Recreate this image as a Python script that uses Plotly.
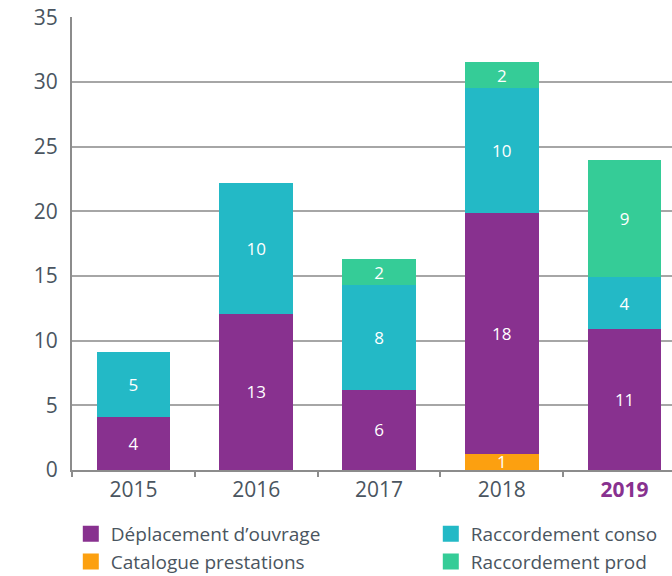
import plotly.graph_objects as go

years = ["2015", "2016", "2017", "2018", "2019"]
year_labels = ["2015", "2016", "2017", "2018",
               "<span style='color:#88318F'><b>2019</b></span>"]

# segment heights as drawn in the picture
catalogue = [0, 0, 0, 1.24, 0]
deplacement = [4.1, 12.1, 6.2, 18.6, 10.9]
conso = [5.0, 10.1, 8.1, 9.7, 4.0]
prod = [0, 0, 2.0, 2.0, 9.1]

# printed labels
catalogue_lbl = ["", "", "", "1", ""]
deplacement_lbl = ["4", "13", "6", "18", "11"]
conso_lbl = ["5", "10", "8", "10", "4"]
prod_lbl = ["", "", "2", "2", "9"]

C_DEP = "#88318F"
C_CAT = "#FCA010"
C_CON = "#23B9C6"
C_PRO = "#35CC97"
TXT = "#4A5560"
FONT = "Open Sans"

xs = list(range(len(years)))

fig = go.Figure()
for name, vals, lbl, col in [
    ("Catalogue prestations", catalogue, catalogue_lbl, C_CAT),
    ("Déplacement d’ouvrage", deplacement, deplacement_lbl, C_DEP),
    ("Raccordement conso", conso, conso_lbl, C_CON),
    ("Raccordement prod", prod, prod_lbl, C_PRO),
]:
    fig.add_bar(x=xs, y=vals, text=lbl, name=name, marker_color=col,
                marker_line_width=0, textposition="inside", textangle=0,
                insidetextanchor="middle",
                textfont=dict(color="white", size=17, family=FONT),
                showlegend=False, width=0.6)

# legend entries (two columns, as in the reference)
for name, col, lg in [
    ("Déplacement d’ouvrage", C_DEP, "legend"),
    ("Catalogue prestations", C_CAT, "legend"),
    ("Raccordement conso", C_CON, "legend2"),
    ("Raccordement prod", C_PRO, "legend2"),
]:
    fig.add_scatter(x=[None], y=[None], mode="markers", name=name,
                    legend=lg,
                    marker=dict(symbol="square", size=19, color=col))

leg_common = dict(orientation="v", xanchor="left", y=-0.099, yanchor="top",
                  font=dict(size=19, color=TXT, family=FONT),
                  traceorder="normal", tracegroupgap=0,
                  bgcolor="rgba(0,0,0,0)")

fig.update_layout(
    width=672, height=576,
    barmode="stack",
    plot_bgcolor="white", paper_bgcolor="white",
    margin=dict(l=72, r=0, t=17, b=106, autoexpand=False),
    font=dict(family=FONT, color=TXT, size=20),
    uniformtext=dict(minsize=17, mode="show"),
    legend=dict(x=-0.002, **leg_common),
    legend2=dict(x=0.598, **leg_common),
)
fig.update_xaxes(
    range=[-0.5, 4.386], tickmode="array", tickvals=xs, ticktext=year_labels,
    ticks="", showgrid=False, showline=True, linecolor="#8C8C8C",
    linewidth=2, tickfont=dict(size=21, color=TXT), ticklabelstandoff=0,
    minor=dict(tickmode="array", tickvals=[-0.5, 0.5, 1.5, 2.5, 3.5],
               ticks="outside", ticklen=5, tickcolor="#8C8C8C", tickwidth=1.5),
    zeroline=False,
)
fig.update_yaxes(
    range=[0, 35.03], dtick=5, showgrid=True, gridcolor="#A6A6A6", gridwidth=2,
    showline=True, linecolor="#8C8C8C", linewidth=2, zeroline=False,
    tickfont=dict(size=21, color=TXT), ticklabelstandoff=8,
    ticklabeloverflow="allow",
)

fig.write_html("out.html", config={"displayModeBar": False})

# remove the default page margin so the figure fills the window exactly
with open("out.html", encoding="utf-8") as f:
    html = f.read()
html = html.replace("<body>", "<body style=\"margin:0;overflow:hidden\">", 1)
with open("out.html", "w", encoding="utf-8") as f:
    f.write(html)
